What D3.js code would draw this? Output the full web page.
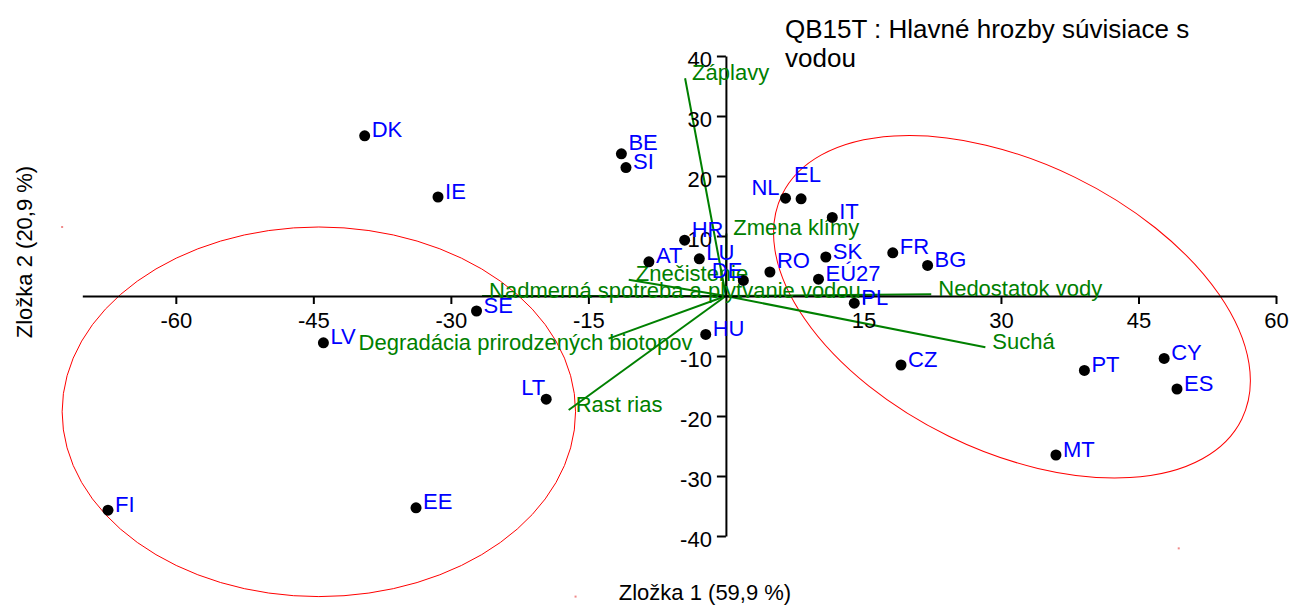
<!DOCTYPE html>
<html>
<head>
<meta charset="utf-8">
<script src="https://cdn.jsdelivr.net/npm/d3@7"></script>
<style>
  html, body { margin: 0; padding: 0; background: #ffffff; }
  svg { display: block; font-family: "Liberation Sans", Arial, sans-serif; }
</style>
</head>
<body>
<svg id="chart" width="1292" height="605"></svg>
<script>
// ---------- DATA ----------
const titleLines = ["QB15T : Hlavné hrozby súvisiace s", "vodou"];
const xAxisTitle = "Zložka 1 (59,9 %)";
const yAxisTitle = "Zložka 2 (20,9 %)";

const xTicks = [-60, -45, -30, -15, 15, 30, 45, 60];
const yTicks = [40, 30, 20, 10, -10, -20, -30, -40];

const countries = ["DK","BE","SI","IE","NL","EL","IT","HR","LU","AT","SK","FR","BG","RO","EÚ27","DE","PL","SE","LV","HU","CZ","LT","CY","PT","ES","MT","EE","FI"];
const comp1 = [-39.4,-11.4,-10.9,-31.4,6.5,8.2,11.6,-4.5,-2.9,-8.4,10.9,18.2,22.0,4.8,10.1,1.9,14.0,-27.2,-43.9,-2.2,19.1,-19.6,47.8,39.1,49.2,36.0,-33.8,-67.4];
const comp2 = [26.7,23.7,21.4,16.5,16.3,16.2,13.1,9.3,6.2,5.7,6.5,7.2,5.1,4.0,2.8,2.6,-1.2,-2.5,-7.8,-6.4,-11.5,-17.2,-10.4,-12.4,-15.5,-26.5,-35.3,-35.7];

const variables = ["Záplavy","Zmena klímy","Znečistenie","Nadmerná spotreba a plytvanie vodou","Nedostatok vody","Suchá","Degradácia prirodzených biotopov","Rast rias"];
const var1 = [-4.45, 0.05, -10.6, -26.6, 22.4, 28.3, -12.8, -17.15];
const var2 = [36.3, 10.4, 2.7, 0.0, 0.3, -8.55, -7.1, -19.0];

// group ellipses (centre / radii in component units, rotation in degrees)
const ellipseCx = [-44.4, 31.2];
const ellipseCy = [-19.3, -1.8];
const ellipseRx = [28.0, 27.9];
const ellipseRy = [30.8, 24.0];
const ellipseAngle = [0, 26];

// ---------- LAYOUT / STYLE ----------
const FONT = 22;
const labelDefault = { anchor: "start", dx: 7, dy: 1.5 };
const labelTweak = {
  "NL": { anchor: "end", dx: -6, dy: -3 },
  "EL": { anchor: "start", dx: -7, dy: -17 },
  "LT": { anchor: "end", dx: -1, dy: -4 },
  "DE": { anchor: "end", dx: -1, dy: -2 },
  "RO": { anchor: "start", dx: 7, dy: -4.5 },
  "HR": { anchor: "start", dx: 7, dy: -3.5 },
  "BE": { anchor: "start", dx: 7, dy: -4 },
  "Degradácia prirodzených biotopov": { anchor: "start", dx: -250, dy: 11.5 }
};

const svg = d3.select("#chart");

const x = d3.scaleLinear().domain([-70.2, 60]).range([82.3, 1276]);
const y = d3.scaleLinear().domain([-40, 40]).range([536, 56]);

// ellipses
const ell = d3.range(ellipseCx.length).map(i => ({
  cx: x(ellipseCx[i]), cy: y(ellipseCy[i]),
  rx: x(ellipseRx[i]) - x(0), ry: y(0) - y(ellipseRy[i]), a: ellipseAngle[i]
}));
svg.append("g").selectAll("ellipse").data(ell).join("ellipse")
  .attr("cx", d => d.cx).attr("cy", d => d.cy)
  .attr("rx", d => d.rx).attr("ry", d => d.ry)
  .attr("transform", d => `rotate(${d.a},${d.cx},${d.cy})`)
  .attr("fill", "none").attr("stroke", "#ff0000").attr("stroke-width", 1);

// little handle marks at the ellipse frame corners
const corners = [];
ell.forEach(d => {
  const t = d.a * Math.PI / 180;
  [[-1,-1],[1,1]].forEach(([sx, sy]) => {
    const lx = sx * d.rx, ly = sy * d.ry;
    corners.push([d.cx + lx * Math.cos(t) - ly * Math.sin(t), d.cy + lx * Math.sin(t) + ly * Math.cos(t)]);
  });
});
svg.append("g").selectAll("rect").data(corners).join("rect")
  .attr("x", d => d[0] - 1).attr("y", d => d[1] - 1)
  .attr("width", 2).attr("height", 2).attr("fill", "#f08a8a");

// variable vectors
const vars = variables.map((v, i) => ({ name: v, x: var1[i], y: var2[i] }));
svg.append("g").selectAll("line").data(vars).join("line")
  .attr("x1", x(0)).attr("y1", y(0))
  .attr("x2", d => x(d.x)).attr("y2", d => y(d.y))
  .attr("stroke", "#008000").attr("stroke-width", 2);

// axes
const xAxis = svg.append("g").attr("transform", `translate(0,${y(0)})`)
  .call(d3.axisBottom(x).tickValues(xTicks).tickSize(8).tickSizeOuter(0).tickFormat(d => String(d)));
const yAxis = svg.append("g").attr("transform", `translate(${x(0)},0)`)
  .call(d3.axisLeft(y).tickValues(yTicks).tickSize(9).tickSizeOuter(0).tickFormat(d => String(d)));
[xAxis, yAxis].forEach(g => {
  g.select(".domain").attr("stroke", "#000").attr("stroke-width", 2);
  g.selectAll(".tick line").attr("stroke", "#000").attr("stroke-width", 2);
  g.selectAll(".tick text").attr("fill", "#000").style("font-size", FONT + "px")
    .style("font-family", "'Liberation Sans', Arial, sans-serif");
});
xAxis.selectAll(".tick text").attr("y", 32).attr("dy", null);
yAxis.selectAll(".tick text").attr("x", -14).attr("y", 10.5).attr("dy", null);

// variable labels
const place = n => labelTweak[n] || labelDefault;
svg.append("g").selectAll("text").data(vars).join("text")
  .attr("x", d => x(d.x) + place(d.name).dx)
  .attr("y", d => y(d.y) + place(d.name).dy)
  .attr("text-anchor", d => place(d.name).anchor)
  .attr("fill", "#008000").style("font-size", FONT + "px")
  .text(d => d.name);

// country points
const pts = countries.map((c, i) => ({ name: c, x: comp1[i], y: comp2[i] }));
svg.append("g").selectAll("circle").data(pts).join("circle")
  .attr("cx", d => x(d.x)).attr("cy", d => y(d.y)).attr("r", 5.5).attr("fill", "#000");
svg.append("g").selectAll("text").data(pts).join("text")
  .attr("x", d => x(d.x) + place(d.name).dx)
  .attr("y", d => y(d.y) + place(d.name).dy)
  .attr("text-anchor", d => place(d.name).anchor)
  .attr("fill", "#0000ff").style("font-size", FONT + "px")
  .text(d => d.name);

// titles
svg.append("g").selectAll("text").data(titleLines).join("text")
  .attr("x", 785).attr("y", (d, i) => 38 + i * 29)
  .attr("fill", "#000").style("font-size", "26px").text(d => d);
svg.append("text").attr("x", 705).attr("y", 600).attr("text-anchor", "middle")
  .attr("fill", "#000").style("font-size", FONT + "px").text(xAxisTitle);
svg.append("text").attr("transform", "translate(32,252) rotate(-90)").attr("text-anchor", "middle")
  .attr("fill", "#000").style("font-size", FONT + "px").text(yAxisTitle);
</script>
</body>
</html>
